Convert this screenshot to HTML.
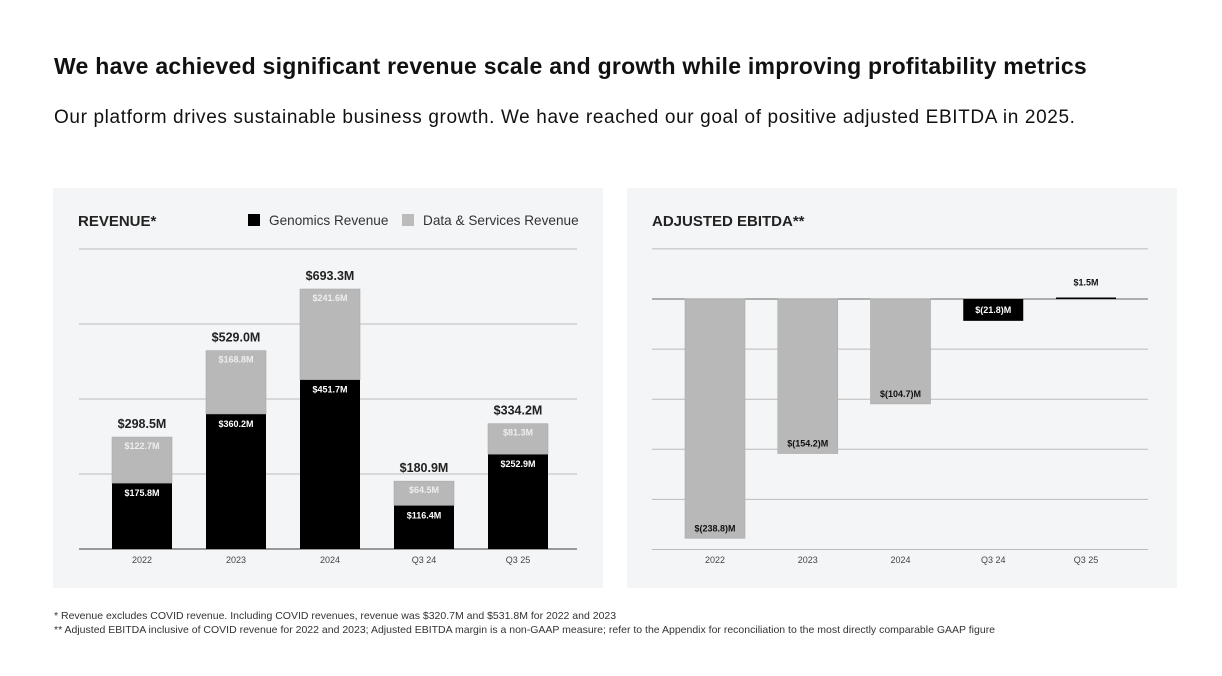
<!DOCTYPE html>
<html><head><meta charset="utf-8">
<style>
body{margin:0;width:1222px;height:676px;background:#fff;font-family:"Liberation Sans",sans-serif;overflow:hidden;position:relative;color:#111}
.t{position:absolute;white-space:nowrap}
.panel{position:absolute;top:188px;width:550px;height:400px;background:#f4f5f7}
</style></head><body>
<div class="t" style="left:54px;top:53px;font-size:23px;font-weight:bold;letter-spacing:0.26px">We have achieved significant revenue scale and growth while improving profitability metrics</div>
<div class="t" style="left:54px;top:107px;font-size:19px;letter-spacing:0.63px">Our platform drives sustainable business growth. We have reached our goal of positive adjusted EBITDA in 2025.</div>
<div class="panel" style="left:53px"></div>
<div class="panel" style="left:627px"></div>
<svg id="c" width="1222" height="676" style="position:absolute;left:0;top:0" font-family="Liberation Sans, sans-serif"></svg>
<div class="t" style="left:54px;top:610px;font-size:10.5px;color:#333">* Revenue excludes COVID revenue. Including COVID revenues, revenue was $320.7M and $531.8M for 2022 and 2023</div>
<div class="t" style="left:54px;top:624px;font-size:10.5px;color:#333">** Adjusted EBITDA inclusive of COVID revenue for 2022 and 2023; Adjusted EBITDA margin is a non-GAAP measure; refer to the Appendix for reconciliation to the most directly comparable GAAP figure</div>
<script>
const categories=["2022","2023","2024","Q3 24","Q3 25"];
const genomics=[175.8,360.2,451.7,116.4,252.9];
const dataServices=[122.7,168.8,241.6,64.5,81.3];
const totals=[298.5,529.0,693.3,180.9,334.2];
const revTicks=[0,200,400,600,800];
const ebitda=[-238.8,-154.2,-104.7,-21.8,1.5];
const ebitdaLabels=["$(238.8)M","$(154.2)M","$(104.7)M","$(21.8)M","$1.5M"];
const ebitdaTicks=[50,0,-50,-100,-150,-200,-250];
const svg=document.getElementById('c');
const NS='http://www.w3.org/2000/svg';
function mk(tag,a,txt){const e=document.createElementNS(NS,tag);for(const k in a)e.setAttribute(k,a[k]);if(txt!==undefined)e.textContent=txt;svg.appendChild(e);return e;}
function fmt(v){return '$'+v.toFixed(1)+'M';}
const ry=v=>549-v*(300/800);
const rx=i=>142+i*94;
let e;
e=mk('text',{x:78,y:226,'font-size':15,'font-weight':'bold',fill:'#222'},'REVENUE*');

e=mk('rect',{x:248,y:214,width:12,height:12,fill:'#000'});

e=mk('text',{x:269,y:225,'font-size':13.6,fill:'#333'},'Genomics Revenue');

e=mk('rect',{x:402,y:214,width:12,height:12,fill:'#bbb'});

e=mk('text',{x:423,y:225,'font-size':13.6,fill:'#333'},'Data & Services Revenue');

revTicks.forEach(t=>{e=mk('line',{x1:79,x2:577,y1:ry(t),y2:ry(t),stroke:t===0?'#999':'#bbb','stroke-width':t===0?2:1});
});
categories.forEach((c,i)=>{
 const x=rx(i)-30,g=genomics[i],d=dataServices[i];
 e=mk('rect',{x:x,y:ry(g),width:60,height:ry(0)-ry(g),fill:'#000'});
 
 e=mk('rect',{x:x,y:ry(g+d),width:60,height:ry(g)-ry(g+d),fill:'#b8b8b8',stroke:'#aaa','stroke-width':0.6});
 
 e=mk('text',{x:rx(i),y:ry(g)+13,'font-size':9,'font-weight':'bold',fill:'#fff','text-anchor':'middle'},fmt(g));
 
 e=mk('text',{x:rx(i),y:ry(g+d)+12,'font-size':9,'font-weight':'bold',fill:'#eee','text-anchor':'middle'},fmt(d));
 
 e=mk('text',{x:rx(i),y:ry(g+d)-9,'font-size':12.5,'font-weight':'bold',fill:'#222','text-anchor':'middle'},fmt(totals[i]));
 
 e=mk('text',{x:rx(i),y:563,'font-size':9,fill:'#444','text-anchor':'middle'},c);
 
});
const ey=v=>299-v*(250.5/250);
const ex=i=>715+i*92.75;
e=mk('text',{x:652,y:226,'font-size':15,'font-weight':'bold',fill:'#222'},'ADJUSTED EBITDA**');

ebitdaTicks.forEach(t=>{e=mk('line',{x1:652,x2:1148,y1:ey(t),y2:ey(t),stroke:t===0?'#666':'#bbb','stroke-width':1});
});
categories.forEach((c,i)=>{
 const v=ebitda[i],x=ex(i)-30;
 const black=i>=3;
 const y0=Math.min(ey(0),ey(v)),h=Math.max(Math.abs(ey(v)-ey(0)),1.2);
 e=mk('rect',{x:x,y:v>0?y0:ey(0),width:60,height:h,fill:black?'#000':'#b8b8b8',stroke:black?'none':'#aaa','stroke-width':0.6});
 
 let ly=v>0?ey(v)-12:(i===3?ey(v)-8:ey(v)-7);
 e=mk('text',{x:ex(i),y:ly,'font-size':9,'font-weight':'bold',fill:i===3?'#fff':'#111','text-anchor':'middle'},ebitdaLabels[i]);
 
 e=mk('text',{x:ex(i),y:563,'font-size':9,fill:'#444','text-anchor':'middle'},c);
 
});
</script>
</body></html>
